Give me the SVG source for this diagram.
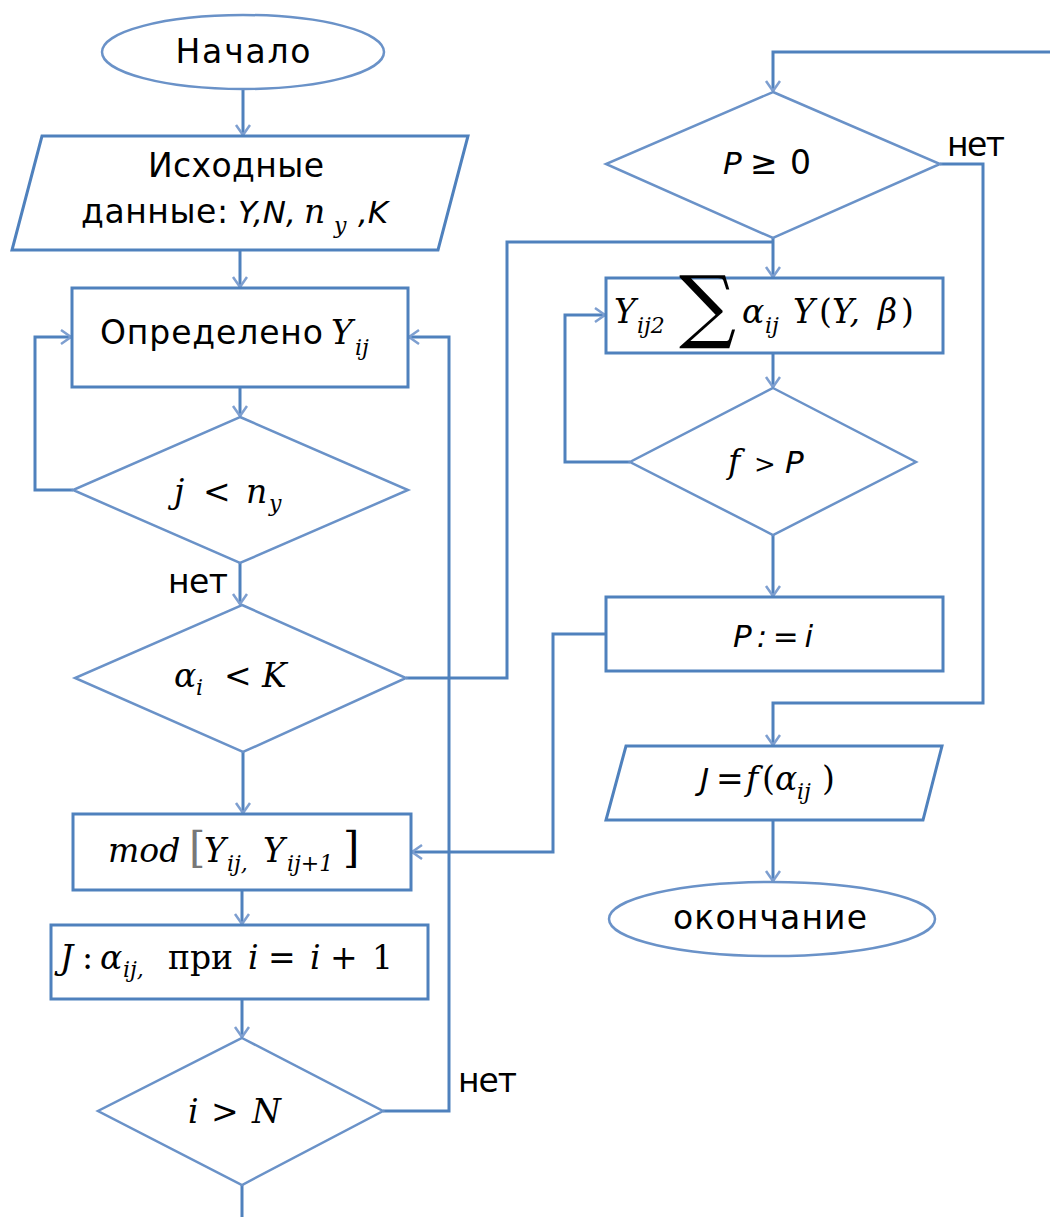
<svg xmlns="http://www.w3.org/2000/svg" width="1050" height="1217" viewBox="0 0 1050 1217">
<defs>
<marker id="arr" markerUnits="userSpaceOnUse" markerWidth="14" markerHeight="18" refX="11" refY="8" orient="auto">
<path d="M1,1 L11,8 L1,15" fill="none" stroke="#7E9FD0" stroke-width="2.5"/>
</marker>
<style>
.sh{fill:#fff;stroke:#4F81BD;stroke-width:3}
.dm{fill:#fff;stroke:#6A92C8;stroke-width:2.5}
.cn{fill:none;stroke:#4F81BD;stroke-width:3}
.ca{fill:none;stroke:#4F81BD;stroke-width:3;marker-end:url(#arr)}
.t{font-family:"DejaVu Sans",Verdana,sans-serif;font-size:33px;font-style:normal;fill:#000}
.ti{font-family:"DejaVu Sans",Verdana,sans-serif;font-size:31px;font-style:italic;fill:#000}
.m{font-family:"DejaVu Serif","Liberation Serif",serif;font-size:33px;font-style:italic;fill:#000}
.mu{font-family:"DejaVu Serif","Liberation Serif",serif;font-size:33px;font-style:normal;fill:#000}
.s{font-size:22px}
</style>
</defs>
<g id="connectors">
<path class="ca" d="M243,90 V135"/>
<path class="ca" d="M240,250 V287"/>
<path class="ca" d="M240,387 V416"/>
<path class="ca" d="M73,490 H35 V337 H71"/>
<path class="ca" d="M240,563 V604"/>
<path class="cn" d="M406,678 H507 V242 H773"/>
<path class="ca" d="M773,238 V277"/>
<path class="ca" d="M243,752 V813"/>
<path class="ca" d="M242,890 V924"/>
<path class="ca" d="M242,999 V1037"/>
<path class="cn" d="M242,1185 V1217"/>
<path class="ca" d="M383,1111 H449 V337 H409"/>
<path class="ca" d="M1050,52 H773 V91"/>
<path class="ca" d="M940,164 H983 V703 H773 V745"/>
<path class="ca" d="M773,353 V387"/>
<path class="ca" d="M630,462 H565 V315 H605"/>
<path class="ca" d="M773,535 V596"/>
<path class="ca" d="M606,634 H553 V852 H412"/>
<path class="ca" d="M773,820 V881"/>
<text class="t" x="168" y="593" textLength="60">нет</text>
<text class="t" x="458" y="1092" textLength="59">нет</text>
<text class="t" x="947" y="156" textLength="58">нет</text>
</g>
<g id="start">
<ellipse class="dm" cx="243" cy="52" rx="141" ry="37"/>
<text class="t" x="243" y="63" text-anchor="middle" textLength="135">Начало</text>
</g>
<g id="input">
<polygon class="sh" points="42,136 468,136 438,250 12,250"/>
<text class="t" x="148" y="177" textLength="176">Исходные</text>
<text class="t" x="81" y="223"><tspan textLength="147">данные:</tspan><tspan class="ti" x="238">Y,N,</tspan><tspan class="m" x="304">n</tspan><tspan class="m s" x="334" y="233">y</tspan><tspan class="ti" x="358" y="223">,K</tspan></text>
</g>
<g id="defY">
<rect class="sh" x="72" y="288" width="336" height="99"/>
<text class="t" x="100" y="344"><tspan textLength="223">Определено</tspan><tspan class="m" x="331">Y</tspan><tspan class="m s" x="355" y="355">ij</tspan></text>
</g>
<g id="cond-j">
<polygon class="dm" points="240,417 408,490 240,563 73,490"/>
<text class="m" x="174" y="503">j<tspan class="mu" x="203">&lt;</tspan><tspan x="246">n</tspan><tspan class="s" x="269" y="511">y</tspan></text>
</g>
<g id="cond-alpha">
<polygon class="dm" points="242,605 406,678 243,752 75,678"/>
<text class="m" x="174" y="687">α<tspan class="s" x="196" y="695">i</tspan><tspan class="mu" x="224" y="687">&lt;</tspan><tspan x="262" y="687">K</tspan></text>
</g>
<g id="mod">
<rect class="sh" x="73" y="814" width="338" height="76"/>
<text class="m" x="108" y="862">mod<tspan class="mu" x="189" style="fill:#777;font-size:42px">[</tspan><tspan x="204">Y</tspan><tspan class="s" x="227" y="871">ij,</tspan><tspan x="263" y="862">Y</tspan><tspan class="s" x="287" y="871">ij+1</tspan><tspan class="mu" x="343" y="862" style="font-size:42px">]</tspan></text>
</g>
<g id="J-step">
<rect class="sh" x="51" y="925" width="377" height="74"/>
<text class="m" x="60" y="969">J<tspan class="mu" x="82">:</tspan><tspan x="100">α</tspan><tspan class="s" x="123" y="977">ij,</tspan><tspan class="mu" x="168" y="969">при</tspan><tspan x="248">i</tspan><tspan class="mu" x="268">=</tspan><tspan x="310">i</tspan><tspan class="mu" x="330">+</tspan><tspan class="mu" x="372">1</tspan></text>
</g>
<g id="cond-N">
<polygon class="dm" points="242,1038 383,1111 242,1185 98,1111"/>
<text class="m" x="188" y="1123">i<tspan class="mu" x="211">&gt;</tspan><tspan x="252">N</tspan></text>
</g>
<g id="cond-P">
<polygon class="dm" points="773,92 940,164 773,238 606,164"/>
<text class="ti" x="723" y="174">P<tspan class="t" x="750">≥</tspan><tspan class="t" x="790">0</tspan></text>
</g>
<g id="sum">
<rect class="sh" x="606" y="278" width="337" height="75"/>
<text class="m" x="614" y="323">Y<tspan class="s" x="637" y="333">ij2</tspan><tspan class="mu" x="679" y="333" style="font-size:80px">∑</tspan><tspan x="742" y="323">α</tspan><tspan class="s" x="765" y="333">ij</tspan><tspan x="793" y="323">Y</tspan><tspan class="mu" x="819">(</tspan><tspan x="832">Y,</tspan><tspan x="878">β</tspan><tspan class="mu" x="901">)</tspan></text>
</g>
<g id="cond-f">
<polygon class="dm" points="773,388 916,462 773,535 630,462"/>
<text class="m" x="728" y="473">f<tspan class="mu" x="754" style="font-size:26px">&gt;</tspan><tspan class="ti" x="785">P</tspan></text>
</g>
<g id="assignP">
<rect class="sh" x="606" y="597" width="337" height="74"/>
<text class="ti" x="733" y="647" textLength="80">P:=i</text>
</g>
<g id="output">
<polygon class="sh" points="626,746 942,746 923,820 606,820"/>
<text class="ti" x="700" y="790">J<tspan class="t" x="716">=</tspan><tspan class="m" x="746">f</tspan><tspan class="mu" x="762">(</tspan><tspan class="m" x="775">α</tspan><tspan class="m s" x="797" y="799">ij</tspan><tspan class="mu" x="822" y="790">)</tspan></text>
</g>
<g id="end">
<ellipse class="dm" cx="772" cy="919" rx="163" ry="37"/>
<text class="t" x="673" y="929" textLength="194">окончание</text>
</g>
</svg>
